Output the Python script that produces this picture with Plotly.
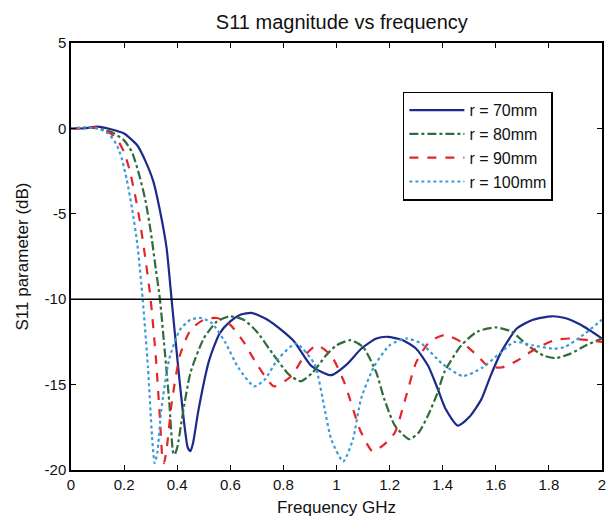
import plotly.graph_objects as go

# ---- data ----
x_r70 = [0, 0.05, 0.1, 0.15, 0.2, 0.25, 0.28, 0.31, 0.34, 0.36, 0.38, 0.40, 0.42, 0.44, 0.45, 0.46, 0.48,
         0.52, 0.56, 0.6, 0.64, 0.68, 0.74, 0.8, 0.842, 0.905, 0.98, 1.04, 1.093, 1.15, 1.193, 1.25, 1.3,
         1.345, 1.38, 1.41, 1.457, 1.5, 1.546, 1.58, 1.62, 1.68, 1.74, 1.81, 1.86, 1.92, 2.0]
y_r70 = [0, 0.0, 0.1, -0.05, -0.3, -1.0, -1.9, -3.1, -5.2, -7.0, -10.2, -13.4, -16.4, -18.7, -18.9, -18.4, -16.5,
         -13.6, -12.0, -11.3, -10.9, -10.8, -11.2, -11.9, -12.5, -13.9, -14.45, -13.8, -12.9, -12.3, -12.2, -12.4, -12.9,
         -13.9, -15.2, -16.4, -17.4, -16.9, -15.85, -14.5, -13.1, -11.7, -11.2, -11.0, -11.1, -11.5, -12.3]

x_r80 = [0, 0.05, 0.1, 0.15, 0.2, 0.23, 0.26, 0.28, 0.30, 0.32, 0.335, 0.35, 0.37, 0.385, 0.39, 0.40, 0.42,
         0.45, 0.5, 0.55, 0.6, 0.65, 0.7, 0.76, 0.82, 0.865, 0.91, 0.96, 1.0, 1.053, 1.1, 1.15, 1.18, 1.22,
         1.274, 1.31, 1.345, 1.38, 1.407, 1.47, 1.53, 1.6, 1.66, 1.72, 1.78, 1.824, 1.88, 1.94, 2.0]
y_r80 = [0, 0.05, 0.0, -0.2, -0.7, -1.4, -2.9, -4.2, -6.0, -8.3, -10.0, -12.5, -16.0, -19.0, -19.1, -18.7, -16.8,
         -14.3, -12.3, -11.3, -11.0, -11.2, -11.9, -13.2, -14.4, -14.8, -14.3, -13.3, -12.7, -12.4, -12.8, -14.3, -15.85, -17.4,
         -18.2, -17.8, -16.8, -15.5, -14.25, -12.7, -11.9, -11.65, -11.9, -12.7, -13.3, -13.45, -13.2, -12.7, -12.3]

x_r90 = [0, 0.05, 0.1, 0.15, 0.18, 0.2, 0.22, 0.24, 0.26, 0.28, 0.30, 0.32, 0.335, 0.345, 0.35, 0.36, 0.38,
         0.41, 0.45, 0.5, 0.55, 0.6, 0.65, 0.7, 0.765, 0.83, 0.88, 0.926, 0.98, 1.03, 1.09, 1.136, 1.18, 1.22,
         1.26, 1.3, 1.35, 1.407, 1.47, 1.53, 1.57, 1.621, 1.68, 1.75, 1.82, 1.884, 1.95, 2.0]
y_r90 = [0, 0.0, 0.05, -0.3, -0.8, -1.4, -2.4, -3.8, -5.5, -7.6, -10.0, -13.5, -17.0, -19.4, -19.6, -18.8, -16.0,
         -13.3, -11.8, -11.2, -11.1, -11.5, -12.5, -13.8, -15.1, -14.5, -13.3, -12.7, -13.3, -14.9, -17.7, -18.9, -18.5, -17.8,
         -15.8, -13.7, -12.5, -12.1, -12.5, -13.3, -13.9, -14.0, -13.6, -12.9, -12.4, -12.3, -12.4, -12.5]

x_r100 = [0, 0.05, 0.1, 0.14, 0.17, 0.19, 0.21, 0.23, 0.25, 0.27, 0.29, 0.305, 0.315, 0.325, 0.34, 0.37,
          0.41, 0.45, 0.49, 0.53, 0.58, 0.63, 0.69, 0.73, 0.78, 0.848, 0.917, 0.955, 0.98, 1.025, 1.062, 1.093,
          1.143, 1.2, 1.262, 1.32, 1.4, 1.476, 1.55, 1.62, 1.67, 1.74, 1.818, 1.86, 1.92, 2.0]
y_r100 = [0, 0.05, 0.0, -0.3, -0.9, -1.7, -3.0, -4.7, -6.8, -10.0, -14.0, -18.0, -19.6, -19.0, -16.5, -13.5,
          -11.8, -11.2, -11.1, -11.4, -12.5, -14.0, -15.1, -14.7, -13.5, -12.6, -13.8, -16.4, -18.2, -19.5, -18.2, -15.8,
          -13.9, -12.7, -12.3, -12.6, -13.8, -14.5, -14.0, -13.1, -12.5, -12.7, -12.9, -12.8, -12.2, -11.2]

series_names = ["r = 70mm", "r = 80mm", "r = 90mm", "r = 100mm"]
threshold_db = -10

x_ticks = [0, 0.2, 0.4, 0.6, 0.8, 1, 1.2, 1.4, 1.6, 1.8, 2]
x_tick_text = ["0", "0.2", "0.4", "0.6", "0.8", "1", "1.2", "1.4", "1.6", "1.8", "2"]
y_ticks = [5, 0, -5, -10, -15, -20]
y_tick_text = ["5", "0", "-5", "-10", "-15", "-20"]

# ---- figure ----
FONT = "Arial, Liberation Sans, sans-serif"
styles = [
    dict(color="#1c2a8c", dash="solid", width=2.2),
    dict(color="#2f6b3b", dash="dashdot", width=2.2),
    dict(color="#e3262a", dash="dash", width=2.2),
    dict(color="#3b9bd8", dash="dot", width=2.2),
]

fig = go.Figure()
for name, xs, ys, st in zip(series_names,
                            [x_r70, x_r80, x_r90, x_r100],
                            [y_r70, y_r80, y_r90, y_r100],
                            styles):
    fig.add_trace(go.Scatter(x=xs, y=ys, mode="lines", name=name,
                             line=dict(shape="spline", smoothing=0.6, **st)))

fig.add_shape(type="line", xref="paper", yref="y", x0=0, x1=1,
              y0=threshold_db, y1=threshold_db, line=dict(color="black", width=1.5))

axis_common = dict(showline=True, linecolor="black", linewidth=1.5, mirror="ticks",
                   ticks="inside", ticklen=5, tickcolor="black", showgrid=False, zeroline=False,
                   tickfont=dict(family=FONT, size=15, color="#111"))

fig.update_xaxes(range=[0, 2], tickvals=x_ticks, ticktext=x_tick_text,
                 title=dict(text="Frequency GHz", font=dict(family=FONT, size=17, color="#111"), standoff=9),
                 **axis_common)
fig.update_yaxes(range=[-20, 5], tickvals=y_ticks, ticktext=y_tick_text,
                 title=dict(text="S11 parameter (dB)", font=dict(family=FONT, size=17, color="#111"), standoff=12),
                 **axis_common)

# page body adds an 8 px margin, so the figure is 8 px smaller than the window
fig.update_layout(
    width=607, height=515,
    margin=dict(l=63, r=9, t=35, b=52),
    paper_bgcolor="white", plot_bgcolor="white",
    title=dict(text="S11 magnitude vs frequency", x=0.55, xanchor="center", y=0.972, yanchor="middle",
               font=dict(family=FONT, size=20, color="#111")),
    legend=dict(x=0.625, y=0.886, xanchor="left", yanchor="top",
                bgcolor="white", bordercolor="black", borderwidth=1.5,
                font=dict(family=FONT, size=16, color="#111"),
                itemwidth=55, tracegroupgap=0),
    showlegend=True,
)

fig.write_html("out.html")
